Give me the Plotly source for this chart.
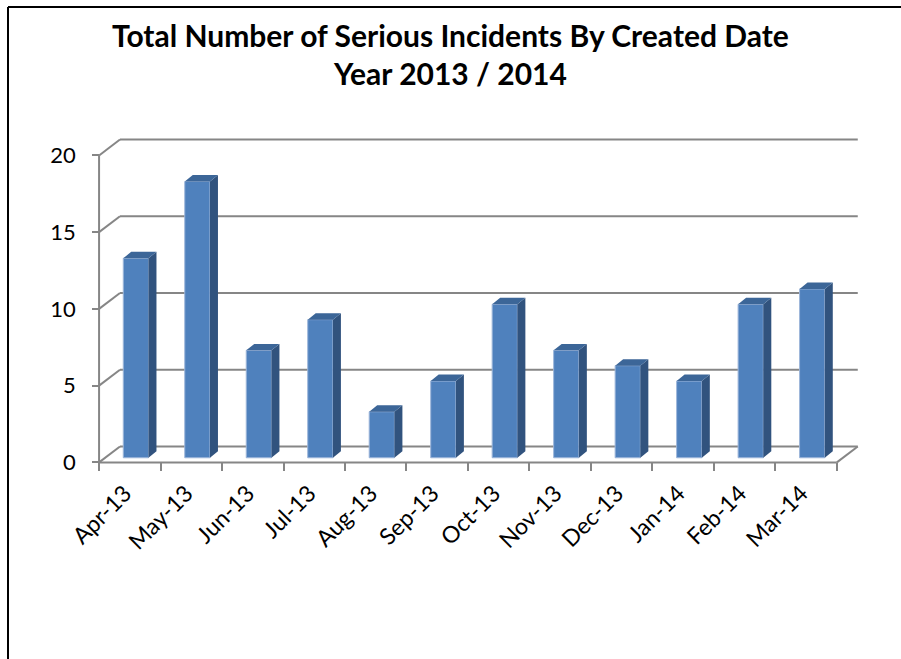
import plotly.graph_objects as go

# ---- data ----
months = ["Apr-13", "May-13", "Jun-13", "Jul-13", "Aug-13", "Sep-13",
          "Oct-13", "Nov-13", "Dec-13", "Jan-14", "Feb-14", "Mar-14"]
incidents = [13, 18, 7, 9, 3, 5, 10, 7, 6, 5, 10, 11]
y_ticks = [0, 5, 10, 15, 20]
title_line1 = "Total Number of Serious Incidents By Created Date"
title_line2 = "Year 2013 / 2014"

# ---- geometry / style ----
W, H = 901, 659
DX, DY = 0.34, 1.04          # depth of floor/back wall in data units
F0 = 0.29                    # depth fraction of bar front face
BW = 0.41                    # bar width (category units)
DDX, DDY = 0.13, 0.42        # bar depth
LABEL_SHIFT = -0.08          # small horizontal nudge of rotated labels
XR = [-0.05, 12.36]
YR = [-0.3, 21.2]
ML, MR, MT, MB = 96, 42, 137, 192
GRID = "#868686"
FRONT, SIDE, TOP = "#4F81BD", "#31537E", "#3C6698"
FONT = "Lato"

pw = W - ML - MR
ph = H - MT - MB
def px2x(px):
    return (px - ML) / pw
def py2y(py):
    return (H - MB - py) / ph

n = len(months)
base = F0 * DY
xc = [k + 0.5 + F0 * DX for k in range(n)]

fig = go.Figure()
fig.add_trace(go.Bar(x=xc, y=incidents, base=[base] * n, width=BW,
                     marker=dict(color=FRONT, line=dict(color="#9DB6DA", width=1)),
                     hoverinfo="skip", showlegend=False))

sx, sy, tx, ty = [], [], [], []
for c, v in zip(xc, incidents):
    l, r = c - BW / 2, c + BW / 2
    top = base + v
    sx += [r, r, r + DDX, r + DDX, r, None]
    sy += [base, top, top + DDY, base + DDY, base, None]
    tx += [l, r, r + DDX, l + DDX, l, None]
    ty += [top, top, top + DDY, top + DDY, top, None]
fig.add_trace(go.Scatter(x=sx, y=sy, fill="toself", fillcolor=SIDE, mode="lines",
                         line=dict(width=0, color=SIDE), hoverinfo="skip", showlegend=False))
fig.add_trace(go.Scatter(x=tx, y=ty, fill="toself", fillcolor=TOP, mode="lines",
                         line=dict(width=0, color=TOP), hoverinfo="skip", showlegend=False))

shapes = []
gl = dict(color=GRID, width=2)
for v in y_ticks:
    shapes.append(dict(type="line", xref="x", yref="y", x0=DX, y0=v + DY, x1=n + DX, y1=v + DY,
                       line=gl, layer="below"))
    shapes.append(dict(type="line", xref="x", yref="y", x0=0, y0=v, x1=DX, y1=v + DY,
                       line=gl, layer="below"))
shapes.append(dict(type="line", xref="x", yref="y", x0=n, y0=0, x1=n + DX, y1=DY, line=gl, layer="below"))
shapes.append(dict(type="line", xref="x", yref="y", x0=0, y0=0, x1=n, y1=0, line=gl, layer="below"))
shapes.append(dict(type="line", xref="x", yref="y", x0=0, y0=0, x1=0, y1=max(y_ticks), line=gl, layer="below"))
# outer frame
shapes.append(dict(type="line", xref="paper", yref="paper", x0=px2x(8), y0=py2y(7), x1=px2x(W + 2), y1=py2y(7),
                   line=dict(color="black", width=2)))
shapes.append(dict(type="line", xref="paper", yref="paper", x0=px2x(8), y0=py2y(7), x1=px2x(8), y1=py2y(H + 2),
                   line=dict(color="black", width=2)))

annotations = [
    dict(text=title_line1, xref="paper", yref="paper", x=px2x(450), y=py2y(35),
         xanchor="center", yanchor="middle", showarrow=False,
         font=dict(family=FONT, size=30, color="black", weight="bold")),
    dict(text=title_line2, xref="paper", yref="paper", x=px2x(450), y=py2y(73),
         xanchor="center", yanchor="middle", showarrow=False,
         font=dict(family=FONT, size=30, color="black", weight="bold")),
]

fig.update_layout(
    width=W, height=H, margin=dict(l=ML, r=MR, t=MT, b=MB),
    paper_bgcolor="white", plot_bgcolor="white",
    shapes=shapes, annotations=annotations, showlegend=False,
    xaxis=dict(range=XR, tickvals=[k + 0.5 + LABEL_SHIFT for k in range(n)], ticktext=months,
               tickangle=-45, ticks="", showgrid=False, zeroline=False, showline=False,
               anchor="free", position=(0 - YR[0]) / (YR[1] - YR[0]),
               ticklabelstandoff=12,
               tickfont=dict(family=FONT, size=23, color="black"),
               minor=dict(tickvals=list(range(n + 1)), ticks="outside", ticklen=8,
                          tickwidth=2, tickcolor=GRID, showgrid=False)),
    yaxis=dict(range=YR, tickvals=y_ticks, ticks="outside", ticklen=7, tickwidth=2,
               tickcolor=GRID, showgrid=False, zeroline=False, showline=False,
               anchor="free", position=(0 - XR[0]) / (XR[1] - XR[0]),
               ticklabelstandoff=12,
               tickfont=dict(family=FONT, size=22, color="black")),
)

fig.write_html("out.html")
